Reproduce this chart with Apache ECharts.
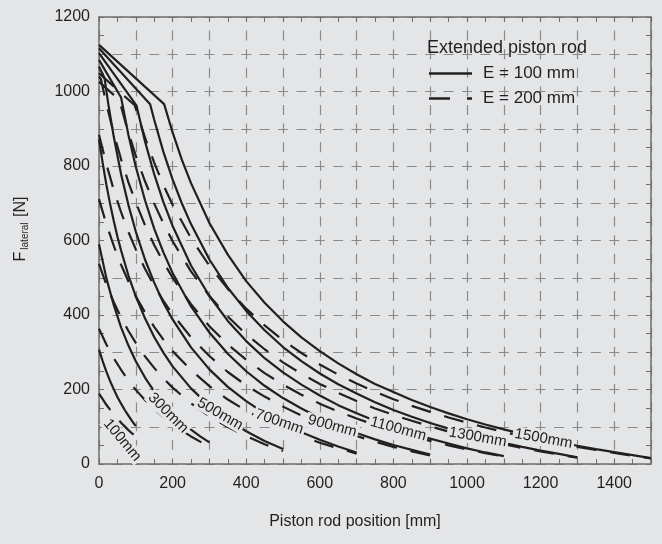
<!DOCTYPE html>
<html><head><meta charset="utf-8">
<script src="https://cdn.jsdelivr.net/npm/echarts/dist/echarts.min.js"></script>
<style>html,body{margin:0;padding:0;background:#e4e5e7;}#c{width:662px;height:544px;}</style>
</head><body><div id="c"></div>
<script>
const strokes = [100, 300, 500, 700, 900, 1100, 1300, 1500];
const xTickLabels = [0, 200, 400, 600, 800, 1000, 1200, 1400];
const yTickLabels = [0, 200, 400, 600, 800, 1000, 1200];
// E = 100 mm (solid) — [piston rod position mm, lateral force N]
const e100_s100  = [[0,307],[10,276],[20,248],[30,223],[40,201],[50,180],[60,162],[70,145],[80,130],[90,115],[100,102]];
const e100_s300  = [[0,590],[20,499],[40,427],[60,367],[80,318],[100,276],[125,232],[150,195],[175,164],[200,137],[225,113],[250,92],[275,74],[300,58]];
const e100_s500  = [[0,872],[10,808],[20,750],[30,699],[40,653],[50,611],[60,573],[80,506],[100,450],[125,391],[150,341],[175,299],[200,262],[250,203],[300,156],[350,119],[400,88],[450,62],[500,40]];
const e100_s700  = [[0,1067],[15,1036],[25,968],[40,879],[60,778],[80,695],[100,624],[125,549],[150,487],[175,433],[200,388],[250,313],[300,254],[350,207],[400,169],[450,136],[500,109],[550,85],[600,65],[650,47],[700,31]];
const e100_s900  = [[0,1085],[60,984],[80,883],[100,798],[125,708],[150,632],[175,568],[200,513],[250,423],[300,353],[350,296],[400,249],[450,210],[500,177],[550,149],[600,124],[650,103],[700,83],[750,66],[800,51],[850,38],[900,25]];
const e100_s1100 = [[0,1103],[102,962],[125,866],[150,778],[175,703],[200,639],[250,533],[300,451],[350,384],[400,330],[450,284],[500,246],[550,213],[600,184],[650,158],[700,136],[750,116],[800,98],[850,82],[900,68],[950,55],[1000,42],[1050,31],[1100,21]];
const e100_s1300 = [[0,1116],[139,966],[150,924],[175,838],[200,764],[225,700],[250,644],[300,549],[350,473],[400,411],[450,359],[500,314],[550,276],[600,243],[650,214],[700,189],[750,166],[800,145],[850,127],[900,110],[950,95],[1000,81],[1050,69],[1100,57],[1150,46],[1200,36],[1250,27],[1300,18]];
const e100_s1500 = [[0,1125],[177,966],[200,890],[225,817],[250,754],[300,647],[350,562],[400,491],[450,433],[500,383],[550,340],[600,303],[650,270],[700,241],[750,215],[800,193],[850,172],[900,153],[950,136],[1000,120],[1050,106],[1100,93],[1150,81],[1200,69],[1250,59],[1300,49],[1350,40],[1400,32],[1450,24],[1500,16]];
// E = 200 mm (dashed)
const e200_s100  = [[0,189],[10,174],[20,159],[30,146],[40,134],[50,122],[60,111],[70,101],[80,91],[90,82],[100,74]];
const e200_s300  = [[0,363],[20,321],[40,284],[60,253],[80,224],[100,199],[125,172],[150,148],[175,126],[200,107],[225,90],[250,74],[275,60],[300,47]];
const e200_s500  = [[0,537],[10,509],[20,482],[30,458],[40,435],[50,414],[60,394],[80,357],[100,325],[125,289],[150,258],[175,230],[200,205],[250,163],[300,128],[350,99],[400,75],[450,53],[500,35]];
const e200_s700  = [[0,711],[20,644],[40,586],[60,535],[80,490],[100,450],[125,407],[150,368],[175,334],[200,303],[250,252],[300,209],[350,173],[400,143],[450,117],[500,94],[550,75],[600,57],[650,42],[700,28]];
const e200_s900  = [[0,884],[20,805],[40,736],[60,676],[80,623],[100,576],[125,524],[150,478],[175,438],[200,402],[250,340],[300,290],[350,247],[400,211],[450,181],[500,154],[550,130],[600,110],[650,91],[700,75],[750,60],[800,46],[850,34],[900,23]];
const e200_s1100 = [[0,1040],[5,1034],[20,967],[40,887],[60,818],[80,756],[100,702],[125,641],[150,588],[175,542],[200,500],[250,429],[300,370],[350,321],[400,280],[450,244],[500,213],[550,186],[600,162],[650,141],[700,122],[750,105],[800,89],[850,75],[900,62],[950,50],[1000,39],[1050,29],[1100,20]];
const e200_s1300 = [[0,1026],[55,978],[75,906],[100,827],[125,759],[150,699],[175,646],[200,598],[250,517],[300,451],[350,396],[400,348],[450,308],[500,273],[550,242],[600,215],[650,191],[700,169],[750,149],[800,132],[850,116],[900,101],[950,87],[1000,75],[1050,63],[1100,53],[1150,43],[1200,34],[1250,25],[1300,17]];
const e200_s1500 = [[0,1049],[97,963],[125,876],[150,809],[175,749],[200,696],[250,606],[300,532],[350,470],[400,417],[450,372],[500,332],[550,298],[600,267],[650,240],[700,216],[750,194],[800,174],[850,156],[900,140],[950,125],[1000,111],[1050,98],[1100,86],[1150,75],[1200,65],[1250,55],[1300,46],[1350,38],[1400,30],[1450,22],[1500,15]];
// curve label anchors (data units) and their angles
const labelAt = [[63,64],[188,137],[329,134],[490,113],[634,102],[813,94],[1029,72],[1208,68]];
const labelAngle = [-50,-45,-30,-19,-15,-15,-10,-10];

const solidSets = [e100_s100,e100_s300,e100_s500,e100_s700,e100_s900,e100_s1100,e100_s1300,e100_s1500];
const dashSets  = [e200_s100,e200_s300,e200_s500,e200_s700,e200_s900,e200_s1100,e200_s1300,e200_s1500];

const BG = '#e4e5e7', INK = '#231f20', GRID = '#8a8a8a', AX = '#6e6e6e';
const FONT = 'Liberation Sans, Arial, sans-serif';
const DASH = [20, 14];

const series = [];
strokes.forEach((s, i) => {
  series.push({
    name: 'E = 100 mm', type: 'line', data: solidSets[i], symbol: 'none',
    lineStyle: { color: INK, width: 2.2 }, itemStyle: { color: INK }, z: 3,
    markPoint: {
      symbol: 'rect', symbolSize: 1, itemStyle: { color: 'rgba(0,0,0,0)' }, z: 10, silent: true,
      data: [{ coord: labelAt[i], value: s,
        label: { show: true, position: 'inside', formatter: s + 'mm', rotate: labelAngle[i],
          fontSize: 15, fontFamily: FONT, color: INK, backgroundColor: BG, padding: [0, 2] } }]
    }
  });
  series.push({
    name: 'E = 200 mm', type: 'line', data: dashSets[i], symbol: 'none',
    lineStyle: { color: INK, width: 2.2, type: DASH }, itemStyle: { color: INK }, z: 3
  });
});

const axisCommon = {
  axisLine: { show: true, onZero: false, lineStyle: { color: AX, width: 1.5 } },
  axisTick: { show: true, inside: true, length: 5, lineStyle: { color: AX, width: 1 } },
  minorTick: { show: true, splitNumber: 2, length: 5, lineStyle: { color: AX, width: 1 } },
};

const chart = echarts.init(document.getElementById('c'), null, { renderer: 'canvas' });
chart.setOption({
  backgroundColor: BG,
  animation: false,
  textStyle: { fontFamily: FONT },
  grid: { left: 99, right: 11, top: 17, bottom: 80 },
  title: { text: 'Extended piston rod', left: 422, top: 34,
    textStyle: { fontSize: 18, fontWeight: 'normal', color: INK, fontFamily: FONT } },
  legend: {
    orient: 'vertical', left: 424, top: 60, itemWidth: 43, itemHeight: 17, itemGap: 8,
    textStyle: { fontSize: 17, lineHeight: 17, color: INK, fontFamily: FONT, padding: [0, 0, 0, 6] },
    selectedMode: false,
    itemStyle: { color: INK, borderWidth: 0 },
    data: [
      { name: 'E = 100 mm', icon: 'path://M0,0H43V2.4H0Z' },
      { name: 'E = 200 mm', icon: 'path://M0,0H21V2.4H0Z M38,0H43V2.4H38Z' }
    ]
  },
  xAxis: [
    Object.assign({ type: 'value', min: 0, max: 1500, interval: 100, position: 'bottom',
      axisLabel: { fontSize: 16, color: INK, margin: 12, fontFamily: FONT,
        formatter: v => xTickLabels.includes(v) ? String(v) : '' },
      splitLine: { show: true, lineStyle: { color: GRID, width: 1.2, type: [10, 8.6], dashOffset: 5 } },
      name: 'Piston rod position [mm]', nameLocation: 'middle', nameGap: 50,
      nameTextStyle: { fontSize: 16, color: INK, fontFamily: FONT, padding: [0, 40, 0, 0] }
    }, axisCommon),
    Object.assign({ type: 'value', min: 0, max: 1500, interval: 100, position: 'top',
      axisLabel: { show: false }, splitLine: { show: false } }, axisCommon)
  ],
  yAxis: [
    Object.assign({ type: 'value', min: 0, max: 1200, interval: 100, position: 'left',
      axisLabel: { fontSize: 16, color: INK, margin: 9, fontFamily: FONT,
        formatter: v => yTickLabels.includes(v) ? String(v) : '' },
      splitLine: { show: true, lineStyle: { color: GRID, width: 1.2, type: [10, 8.4], dashOffset: 5 } }
    }, axisCommon),
    Object.assign({ type: 'value', min: 0, max: 1200, interval: 100, position: 'right',
      axisLabel: { show: false }, splitLine: { show: false } }, axisCommon)
  ],
  graphic: [{
    type: 'text', x: 21, y: 229, rotation: Math.PI / 2,
    style: {
      text: '{a|F}{b|lateral}{a| [N]}', align: 'center', verticalAlign: 'middle',
      rich: {
        a: { fontSize: 16, fontFamily: FONT, fill: INK, lineHeight: 20 },
        b: { fontSize: 10, fontFamily: FONT, fill: INK, lineHeight: 20, padding: [9, 1, 0, 2] }
      }
    }
  }],
  series: series
});
</script>
</body></html>
